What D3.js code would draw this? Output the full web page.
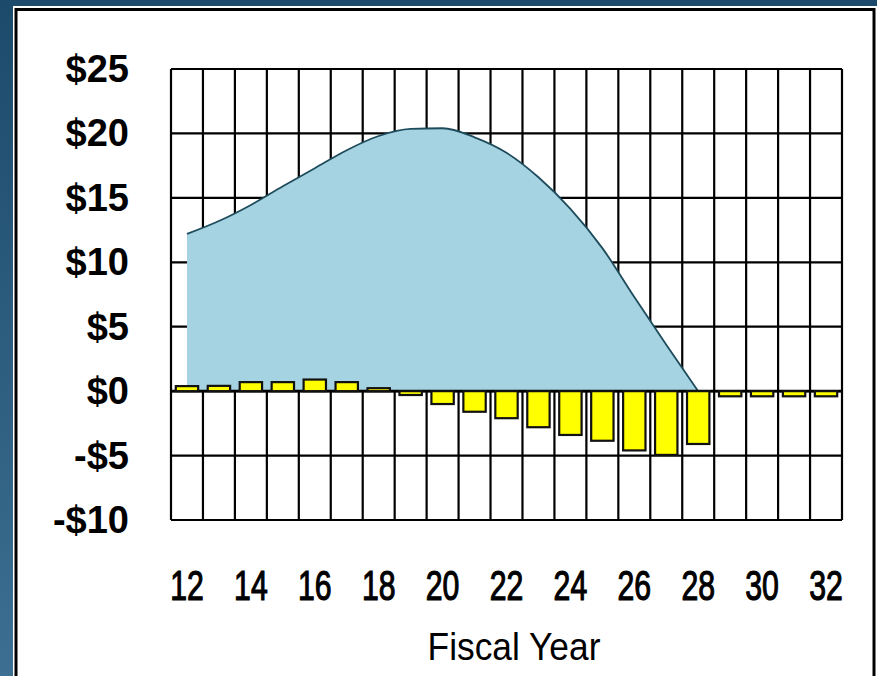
<!DOCTYPE html>
<html>
<head>
<meta charset="utf-8">
<script src="https://cdn.jsdelivr.net/npm/d3@7"></script>
<style>
  html, body { margin: 0; padding: 0; background: #2a5a7e; }
  svg { display: block; }
</style>
</head>
<body>
<svg id="chart" width="877" height="676"></svg>
<script>
// ---- data ----
const years = [12, 13, 14, 15, 16, 17, 18, 19, 20, 21, 22, 23, 24, 25, 26, 27, 28, 29, 30, 31, 32];
const xTickYears = [12, 14, 16, 18, 20, 22, 24, 26, 28, 30, 32];
const xTickLabels = ["12", "14", "16", "18", "20", "22", "24", "26", "28", "30", "32"];
const yTicks = [25, 20, 15, 10, 5, 0, -5, -10];
const yTickLabels = ["$25", "$20", "$15", "$10", "$5", "$0", "-$5", "-$10"];
const areaYears = [12, 13, 14, 15, 16, 17, 18, 19, 20, 21, 22, 23, 24, 25, 26, 27, 28];
const areaValues = [12.2, 13.2, 14.45, 15.9, 17.3, 18.7, 19.8, 20.35, 20.4, 19.7, 18.5, 16.6, 14.15, 11.1, 7.3, 3.6, 0];
const barValues = [0.39, 0.41, 0.7, 0.7, 0.9, 0.7, 0.23, -0.3, -1.0, -1.6, -2.1, -2.8, -3.4, -3.85, -4.6, -4.95, -4.1, -0.4, -0.4, -0.4, -0.4];
const xTitle = "Fiscal Year";

// ---- drawing ----
const svg = d3.select("#chart");
const W = 877, H = 676;
const defs = svg.append("defs");
const grad = defs.append("linearGradient").attr("id", "bg").attr("x1", 0).attr("y1", 0).attr("x2", 0).attr("y2", 1);
grad.append("stop").attr("offset", "0%").attr("stop-color", "#1c4a6b");
grad.append("stop").attr("offset", "100%").attr("stop-color", "#3c6f92");
svg.append("rect").attr("width", W).attr("height", H).attr("fill", "url(#bg)");

// panel
svg.append("rect").attr("x", 13).attr("y", 6).attr("width", W - 13).attr("height", H - 6).attr("fill", "#ffffff");
svg.append("rect").attr("x", 16).attr("y", 9.5).attr("width", 858).attr("height", H + 10)
  .attr("fill", "none").attr("stroke", "#000").attr("stroke-width", 3);

const plot = { left: 171, right: 842, top: 69, bottom: 520 };
const x = d3.scaleBand().domain(years).range([plot.left, plot.right]).paddingInner(0).paddingOuter(0);
const y = d3.scaleLinear().domain([-10, 25]).range([plot.bottom, plot.top]);
const cx = d => x(d) + x.bandwidth() / 2;

const g = svg.append("g");

// gridlines
g.selectAll("line.h").data(yTicks).join("line")
  .attr("x1", plot.left).attr("x2", plot.right)
  .attr("y1", d => y(d)).attr("y2", d => y(d))
  .attr("stroke", "#000").attr("stroke-width", 2.2);
const vlines = years.map(d => x(d)).concat([plot.right]);
g.selectAll("line.v").data(vlines).join("line")
  .attr("x1", d => d).attr("x2", d => d)
  .attr("y1", plot.top).attr("y2", plot.bottom)
  .attr("stroke", "#000").attr("stroke-width", 2.2);

// area
const areaData = areaYears.map((yr, i) => ({ yr, v: areaValues[i] }));
const area = d3.area().x(d => cx(d.yr)).y0(y(0)).y1(d => y(d.v)).curve(d3.curveMonotoneX);
const line = d3.line().x(d => cx(d.yr)).y(d => y(d.v)).curve(d3.curveMonotoneX);
g.append("path").attr("d", area(areaData)).attr("fill", "#a6d3e1");
g.append("path").attr("d", line(areaData)).attr("fill", "none").attr("stroke", "#1f4c5c").attr("stroke-width", 1.8);

// zero line
g.append("line").attr("x1", plot.left).attr("x2", plot.right)
  .attr("y1", y(0)).attr("y2", y(0)).attr("stroke", "#000").attr("stroke-width", 2.8);

// bars
const bw = x.bandwidth() * 0.7;
g.selectAll("rect.bar").data(years.map((yr, i) => ({ yr, v: barValues[i] }))).join("rect")
  .attr("x", d => cx(d.yr) - bw / 2)
  .attr("width", bw)
  .attr("y", d => Math.min(y(d.v), y(0)))
  .attr("height", d => Math.abs(y(d.v) - y(0)))
  .attr("fill", "#ffff00").attr("stroke", "#111").attr("stroke-width", 2.2);

// y labels
g.selectAll("text.y").data(yTicks).join("text")
  .attr("x", 129).attr("y", d => y(d) + 13)
  .attr("text-anchor", "end")
  .attr("font-family", "Liberation Sans, Arial, sans-serif")
  .attr("font-weight", "bold").attr("font-size", 38)
  .attr("fill", "#000")
  .text((d, i) => yTickLabels[i]);

// x labels
g.selectAll("text.x").data(xTickYears).join("text")
  .attr("transform", d => `translate(${cx(d)},600) scale(0.72,1)`)
  .attr("text-anchor", "middle")
  .attr("font-family", "Liberation Sans, Arial, sans-serif")
  .attr("font-size", 42)
  .attr("fill", "#000").attr("stroke", "#000").attr("stroke-width", 1.2)
  .text((d, i) => xTickLabels[i]);

// x title
g.append("text")
  .attr("transform", "translate(514,660) scale(0.93,1)")
  .attr("text-anchor", "middle")
  .attr("font-family", "Liberation Sans, Arial, sans-serif")
  .attr("font-size", 38).attr("fill", "#000")
  .text(xTitle);
</script>
</body>
</html>
